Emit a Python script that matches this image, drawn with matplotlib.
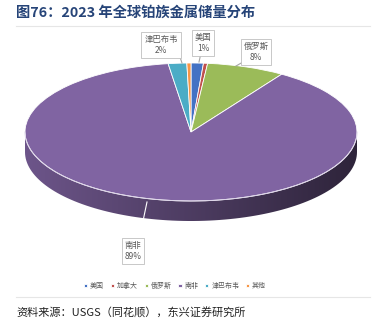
import numpy as np
import matplotlib
matplotlib.use("Agg")
import matplotlib.pyplot as plt
from matplotlib.patches import Polygon
from matplotlib.lines import Line2D
from matplotlib.colors import LinearSegmentedColormap, to_rgb

plt.rcParams['font.family'] = ['Noto Sans CJK SC', 'DejaVu Sans']

# data
countries = ['美国', '加拿大', '俄罗斯', '南非', '津巴布韦', '其他']
shares = [1.2, 0.4, 7.6, 88.6, 1.8, 0.4]
shown_pct = ['1%', None, '8%', '89%', '2%', None]
colors = ['#4472C4', '#C0504D', '#9BBB59', '#8064A2', '#4BACC6', '#F79646']

W, H = 382, 332
cx, cy, rx, ry, depth = 191, 132, 166, 69, 20

fig = plt.figure(figsize=(W / 100, H / 100), dpi=100)
ax = fig.add_axes([0, 0, 1, 1])

wedges, _ = ax.pie(shares, colors=colors, startangle=90, counterclock=False,
                   wedgeprops=dict(edgecolor='white', linewidth=0.6, zorder=3))
ax.set_aspect('auto')
x_lo, x_hi = -cx / rx, (W - cx) / rx
y_lo, y_hi = (cy - H) / ry, cy / ry
ax.set_xlim(x_lo, x_hi)
ax.set_ylim(y_lo, y_hi)

# side wall of the 3d pie: front half, shaded left (light) to right (dark)
d = depth / ry
for w, col in zip(wedges, colors):
    t1, t2 = w.theta1 % 360, w.theta2 % 360
    if t2 <= t1:
        t2 += 360
    # part of the wedge lying in the front half (180..360 deg)
    segs = []
    for off in (0, 360):
        s0, s1 = max(t1, 180 + off), min(t2, 360 + off)
        if s1 > s0:
            segs.append((s0, s1))
    base = np.array(to_rgb(col))
    cmap = LinearSegmentedColormap.from_list('side', [base * 0.85, base * 0.6, base * 0.36])
    for s0, s1 in segs:
        th = np.radians(np.linspace(s0, s1, 100))
        x, y = np.cos(th), np.sin(th)
        pts = np.column_stack([np.r_[x, x[::-1]], np.r_[y, y[::-1] - d]])
        poly = Polygon(pts, closed=True, facecolor='none', edgecolor='none')
        ax.add_patch(poly)
        img = ax.imshow(np.linspace(0, 1, 256)[None, :], cmap=cmap, aspect='auto',
                        extent=(-1, 1, -1 - d, 0), zorder=1, interpolation='bilinear')
        img.set_clip_path(poly)
ax.set_xlim(x_lo, x_hi)
ax.set_ylim(y_lo, y_hi)

# light rim along the front edge
th = np.radians(np.linspace(180, 360, 200))
ax.plot(np.cos(th), np.sin(th), color='#DCD4E8', lw=0.7, zorder=4)


def px(x, y):
    return x / W, 1 - y / H


# data labels with leader lines
label_boxes = {
    '津巴布韦': ((161, 45), (180, 57), (182, 63)),
    '美国': ((203, 43), (201, 53), (199, 62)),
    '俄罗斯': ((256, 52), (243, 62), (236, 66)),
    '南非': ((133, 251), (139, 240), (147, 202)),
}
for name, pct in zip(countries, shown_pct):
    if pct is None:
        continue
    (bx, by), (l0x, l0y), (l1x, l1y) = label_boxes[name]
    fig.add_artist(Line2D([l0x / W, l1x / W], [1 - l0y / H, 1 - l1y / H],
                          color='white' if name == '南非' else '#A6A6A6',
                          lw=0.8, zorder=5))
    fig.text(*px(bx, by), name + '\n' + pct, fontsize=6, color='#595959',
             ha='center', va='center', linespacing=1.3, zorder=6,
             bbox=dict(boxstyle='square,pad=0.35', fc='white', ec='#BFBFBF', lw=0.6))

# legend
ax.legend(wedges, countries, loc='center', bbox_to_anchor=px(175, 286),
          bbox_transform=fig.transFigure, ncol=6, frameon=False, fontsize=5,
          handlelength=0.45, handleheight=0.45, handletextpad=0.4,
          columnspacing=1.0, labelcolor='#595959')

# title and source
fig.text(*px(16, 13), '图76：2023 年全球铂族金属储量分布', fontsize=10.3,
         fontweight='bold', color='#264478', ha='left', va='center')
fig.add_artist(Line2D([16 / W, 370 / W], [1 - 26 / H] * 2, color='#E6E6E6', lw=0.8))
fig.add_artist(Line2D([16 / W, 370 / W], [1 - 297 / H] * 2, color='#E6E6E6', lw=0.8))
fig.text(*px(16, 313), '资料来源：USGS（同花顺），东兴证券研究所', fontsize=8,
         style='italic', color='#222222', ha='left', va='center')

fig.savefig('out.png', dpi=100)
